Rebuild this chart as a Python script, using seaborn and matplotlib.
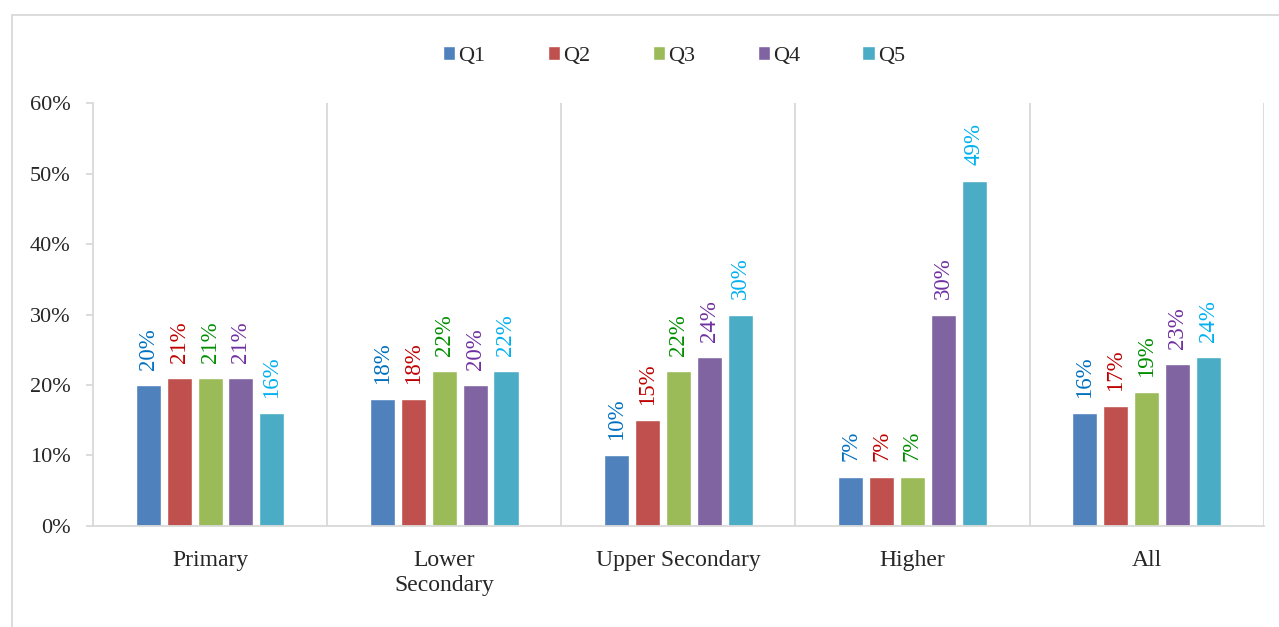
import pandas as pd
import seaborn as sns
import matplotlib.pyplot as plt
from matplotlib.patches import Rectangle
from matplotlib.ticker import PercentFormatter

levels = ['Primary', 'Lower\nSecondary', 'Upper Secondary', 'Higher', 'All']
quintiles = ['Q1', 'Q2', 'Q3', 'Q4', 'Q5']
q1 = [0.20, 0.18, 0.10, 0.07, 0.16]
q2 = [0.21, 0.18, 0.15, 0.07, 0.17]
q3 = [0.21, 0.22, 0.22, 0.07, 0.19]
q4 = [0.21, 0.20, 0.24, 0.30, 0.23]
q5 = [0.16, 0.22, 0.30, 0.49, 0.24]

bar_colors = ['#4F81BD', '#C0504D', '#9BBB59', '#8064A2', '#4BACC6']
label_colors = ['#0070C0', '#C00000', '#008E00', '#7030A0', '#00B0F0']

rows = []
for q, vals in zip(quintiles, [q1, q2, q3, q4, q5]):
    for lev, v in zip(levels, vals):
        rows.append({'level': lev, 'quintile': q, 'share': v})
df = pd.DataFrame(rows)

sns.set_style('white')
plt.rcParams['font.family'] = ['Liberation Serif', 'DejaVu Serif']

fig = plt.figure(figsize=(12.79, 6.27), dpi=100)
ax = fig.add_axes([0.0727, 0.1611, 0.9153, 0.6746])

sns.barplot(data=df, x='level', y='share', hue='quintile', palette=bar_colors,
            width=0.66, gap=0.19, saturation=1, ax=ax, legend=True)

ax.set_xlim(-0.5, 4.5)
ax.set_ylim(0, 0.6)
ax.set_yticks([i / 10 for i in range(7)])
ax.yaxis.set_major_formatter(PercentFormatter(1.0, decimals=0))
ax.set_xlabel('')
ax.set_ylabel('')

# separators between categories
for x in [0.5, 1.5, 2.5, 3.5, 4.5]:
    ax.axvline(x, color='#D9D9D9', lw=1.3, zorder=0)

for s in ['top', 'right']:
    ax.spines[s].set_visible(False)
for s in ['left', 'bottom']:
    ax.spines[s].set_color('#D9D9D9')
    ax.spines[s].set_linewidth(1.3)

ax.tick_params(axis='y', length=5, color='#D9D9D9', width=1.3, labelsize=16, pad=11)
ax.tick_params(axis='x', length=0, labelsize=17, pad=17)
ax.yaxis.set_ticks_position('left')
for t in ax.get_xticklabels():
    t.set_linespacing(1.3)

# value labels
for cont, col in zip(ax.containers, label_colors):
    labels = [f'{v * 100:.0f}%' for v in cont.datavalues]
    ax.bar_label(cont, labels=labels, rotation=90, color=col, fontsize=16.5, padding=11)

# legend on top
handles, lbls = ax.get_legend_handles_labels()
ax.legend(handles, lbls, loc='center', bbox_to_anchor=(0.527, 0.9107), bbox_transform=fig.transFigure,
          ncol=5, frameon=False, fontsize=16, handlelength=0.55, handleheight=0.55,
          handletextpad=0.15, columnspacing=2.8)

# chart border
fig.patches.append(Rectangle((12 / 1279, -0.05), 1.1, 1 - 15 / 627 + 0.05,
                             transform=fig.transFigure, fill=False,
                             edgecolor='#D9D9D9', lw=1.3))

fig.savefig('out.png', dpi=100)
